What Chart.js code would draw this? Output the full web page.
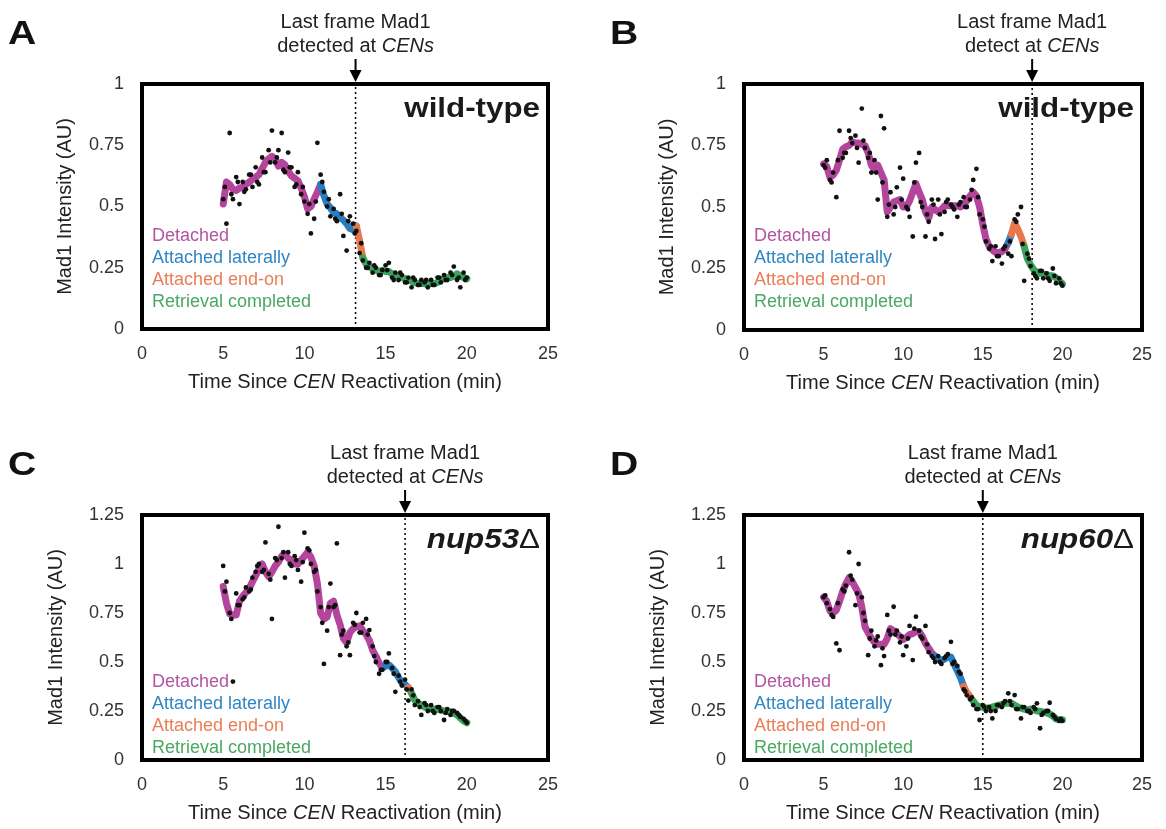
<!DOCTYPE html>
<html><head><meta charset="utf-8">
<script src="https://cdn.jsdelivr.net/npm/chart.js@4.4.1/dist/chart.umd.min.js"></script>
<style>
html,body{margin:0;padding:0;background:#fff;}
#wrap{position:relative;width:1166px;height:829px;overflow:hidden;background:#fff;}
canvas{position:absolute;}
</style></head><body>
<div id="wrap">
<canvas id="cA" width="583" height="414" style="left:0;top:0"></canvas>
<canvas id="cB" width="583" height="414" style="left:583px;top:0"></canvas>
<canvas id="cC" width="583" height="415" style="left:0;top:414px"></canvas>
<canvas id="cD" width="583" height="415" style="left:583px;top:414px"></canvas>
</div>
<script>
// ---------- DATA ----------
const phaseNames = ['Detached', 'Attached laterally', 'Attached end-on', 'Retrieval completed'];
const xTicks = [0, 5, 10, 15, 20, 25];
const xTickLabels = ['0', '5', '10', '15', '20', '25'];
const yTicksAB = [0, 0.25, 0.5, 0.75, 1];
const yTickLabelsAB = ['0', '0.25', '0.5', '0.75', '1'];
const yTicksCD = [0, 0.25, 0.5, 0.75, 1, 1.25];
const yTickLabelsCD = ['0', '0.25', '0.5', '0.75', '1', '1.25'];

const timeGrid = [5,5.2,5.4,5.6,5.8,6,6.2,6.4,6.6,6.8,7,7.2,7.4,7.6,7.8,8,8.2,8.4,8.6,8.8,9,9.2,9.4,9.6,9.8,
  10,10.2,10.4,10.6,10.8,11,11.2,11.4,11.6,11.8,12,12.2,12.4,12.6,12.8,13,13.2,13.4,13.6,13.8,14,14.2,14.4,14.6,14.8,
  15,15.2,15.4,15.6,15.8,16,16.2,16.4,16.6,16.8,17,17.2,17.4,17.6,17.8,18,18.2,18.4,18.6,18.8,19,19.2,19.4,19.6,19.8,20];
const timeSparse = [5.1,5.5,5.9,6.3,6.7,7.1,7.5,7.9,8.3,8.7,9.1,9.5,9.9,10.3,10.7,11.1,11.5,11.9,12.3,12.7,
  13.1,13.5,13.9,14.3,14.7,15.1,15.5,15.9,16.3,16.7,17.1,17.5,17.9,18.3,18.7,19.1,19.5,19.9];

// Panel A (wild-type)
const lineA = [0.51,0.60,0.59,0.57,0.565,0.575,0.58,0.59,0.60,0.61,
  0.62,0.63,0.655,0.68,0.695,0.705,0.695,0.665,0.68,0.67,
  0.645,0.625,0.615,0.605,0.575,
  0.54,0.49,0.50,0.53,0.56, 0.59,0.545,0.51,0.495,0.475, 0.47,0.455,0.445,0.43,0.41, 0.405,0.42,0.36,0.29,0.265, 0.255,0.245,0.24,0.235,0.24,
  0.235,0.235,0.225,0.22,0.215, 0.21,0.205,0.20,0.195,0.19, 0.185,0.19,0.185,0.185,0.19, 0.185,0.19,0.20,0.205,0.21, 0.21,0.215,0.225,0.215,0.21, 0.205];
const dotsA = [0.53,0.43,0.80,0.53,0.62,0.51,0.60,0.57,0.63,0.58,
  0.66,0.59,0.70,0.64,0.73,0.81,0.68,0.73,0.80,0.64,
  0.72,0.66,0.58,0.64,0.55,
  0.52,0.47,0.39,0.45,0.76, 0.63,0.56,0.50,0.46,0.49, 0.44,0.55,0.38,0.32,0.46, 0.43,0.40,0.31,0.28,0.25, 0.27,0.23,0.25,0.22,0.24,
  0.26,0.27,0.21,0.23,0.20, 0.22,0.19,0.21,0.17,0.20, 0.18,0.20,0.19,0.17,0.20, 0.18,0.21,0.19,0.22,0.20, 0.23,0.255,0.20,0.17,0.23, 0.21];
const dotsA2 = [0.58,0.55,0.60,0.56,0.63,0.60,0.64,0.68,0.70,0.65,0.66,0.59,0.58,0.51,0.52,0.60,0.53,0.45,0.47,0.44,
  0.39,0.35,0.25,0.26,0.22,0.24,0.20,0.23,0.19,0.21,0.18,0.20,0.18,0.21,0.20,0.22,0.21,0.20];
const phaseStartA = [11.0, 13.2, 13.65];
const lastFrameA = 13.15;

// Panel B (wild-type)
const lineB = [0.675,0.665,0.62,0.63,0.65,0.69,0.735,0.745,0.75,0.765,
  0.76,0.76,0.755,0.75,0.72,0.67,0.65,0.67,0.64,0.61,
  0.48,0.50,0.52,0.525,0.53,
  0.50,0.50,0.525,0.56,0.595, 0.56,0.53,0.48,0.455,0.50, 0.49,0.48,0.49,0.505,0.505, 0.505,0.505,0.505,0.50,0.51, 0.525,0.545,0.56,0.545,0.50,
  0.43,0.37,0.34,0.325,0.315, 0.315,0.318,0.33,0.355,0.39, 0.435,0.41,0.38,0.34,0.29, 0.265,0.245,0.235,0.23,0.228, 0.225,0.222,0.22,0.212,0.20, 0.188];
const dotsB = [0.67,0.69,0.61,0.64,0.54,0.81,0.70,0.72,0.81,0.76,
  0.79,0.68,0.90,0.74,0.70,0.64,0.69,0.53,0.87,0.82,
  0.46,0.56,0.47,0.58,0.66,
  0.615,0.50,0.46,0.38,0.68, 0.72,0.50,0.38,0.44,0.53, 0.37,0.53,0.39,0.48,0.53, 0.51,0.49,0.46,0.52,0.54, 0.50,0.53,0.61,0.655,0.47,
  0.45,0.36,0.33,0.28,0.34, 0.30,0.27,0.34,0.31,0.30, 0.45,0.47,0.50,0.20,0.31, 0.26,0.23,0.21,0.24,0.21, 0.23,0.20,0.25,0.19,0.21, 0.18];
const dotsB2 = [0.66,0.60,0.69,0.72,0.78,0.74,0.77,0.72,0.64,0.60,0.51,0.50,0.53,0.49,0.60,0.52,0.47,0.51,0.47,0.52,
  0.50,0.51,0.50,0.57,0.54,0.42,0.34,0.30,0.33,0.36,0.44,0.35,0.29,0.22,0.24,0.21,0.22,0.19];
const phaseStartB = [16.65, 16.85, 17.55];
const lastFrameB = 18.1;

// Panel C (nup53Δ)
const lineC = [0.885,0.80,0.745,0.74,0.74,0.81,0.835,0.855,0.875,0.91,
  0.94,0.975,1.0,0.96,0.935,0.96,0.99,1.01,1.04,1.05,
  1.03,1.015,1.0,1.0,1.02,
  1.04,1.06,1.035,0.99,0.90, 0.75,0.72,0.73,0.80,0.81, 0.74,0.69,0.62,0.60,0.65, 0.67,0.68,0.685,0.66,0.64, 0.61,0.56,0.53,0.495,0.47,
  0.48,0.485,0.47,0.45,0.42, 0.395,0.385,0.37,0.34,0.305, 0.29,0.28,0.27,0.265,0.262, 0.26,0.258,0.255,0.25,0.248, 0.245,0.24,0.23,0.215,0.20, 0.19];
const dotsC = [0.99,0.91,0.75,0.40,0.85,0.79,0.82,0.88,0.86,0.93,
  0.96,1.00,0.96,1.11,0.95,0.72,1.03,1.19,1.03,0.93,
  1.06,0.99,1.04,0.97,0.91,
  1.16,1.08,1.00,0.96,0.86, 0.78,0.49,0.66,0.90,0.78, 1.105,0.535,0.66,0.58,0.535, 0.70,0.75,0.65,0.70,0.72, 0.663,0.58,0.50,0.44,0.46,
  0.50,0.544,0.47,0.348,0.43, 0.38,0.41,0.303,0.36,0.28, 0.30,0.23,0.29,0.25,0.28, 0.24,0.27,0.25,0.204,0.26, 0.23,0.25,0.24,0.22,0.21, 0.19];
const dotsC2 = [0.86,0.72,0.79,0.83,0.87,0.99,0.97,0.92,1.02,1.06,1.00,1.02,1.01,1.07,0.97,0.70,0.78,0.79,0.64,0.60,
  0.69,0.65,0.64,0.53,0.46,0.50,0.44,0.40,0.36,0.33,0.27,0.28,0.25,0.27,0.24,0.25,0.23,0.20];
const phaseStartC = [14.9, 16.3, 16.7];
const lastFrameC = 16.2;

// Panel D (nup60Δ)
const lineD = [0.83,0.81,0.76,0.75,0.765,0.81,0.86,0.90,0.93,0.91,
  0.88,0.85,0.78,0.68,0.65,0.62,0.60,0.59,0.59,0.59,
  0.62,0.67,0.66,0.645,0.63,
  0.615,0.625,0.64,0.645,0.655, 0.655,0.63,0.595,0.57,0.545, 0.53,0.515,0.51,0.515,0.525, 0.525,0.49,0.455,0.42,0.375, 0.345,0.325,0.30,0.28,0.272,
  0.268,0.265,0.265,0.27,0.275, 0.28,0.283,0.29,0.29,0.29, 0.28,0.27,0.265,0.26,0.255, 0.26,0.255,0.25,0.248,0.245, 0.24,0.235,0.225,0.21,0.205, 0.205];
const dotsD = [0.83,0.80,0.77,0.73,0.595,0.56,0.87,0.89,1.06,0.92,
  0.79,1.00,0.83,0.71,0.535,0.66,0.58,0.63,0.484,0.53,
  0.74,0.64,0.782,0.66,0.60,
  0.535,0.58,0.684,0.51,0.731, 0.66,0.62,0.684,0.55,0.53, 0.50,0.53,0.49,0.52,0.54, 0.603,0.50,0.48,0.44,0.36, 0.33,0.31,0.28,0.26,0.204,
  0.28,0.25,0.27,0.212,0.25, 0.28,0.27,0.30,0.34,0.28, 0.331,0.26,0.212,0.27,0.25, 0.24,0.27,0.289,0.162,0.24, 0.25,0.292,0.23,0.21,0.20, 0.20];
const dotsD2 = [0.84,0.74,0.80,0.86,0.94,0.85,0.75,0.62,0.61,0.57,0.66,0.64,0.63,0.62,0.67,0.63,0.59,0.52,0.50,0.53,
  0.49,0.45,0.35,0.32,0.26,0.27,0.25,0.28,0.29,0.30,0.26,0.27,0.25,0.26,0.23,0.25,0.22,0.21];
const phaseStartD = [11.9, 13.7, 14.3];
const lastFrameD = 15.0;

// ---------- STYLE / LAYOUT ----------
const FONT = '"Liberation Sans", Arial, Helvetica, sans-serif';
const LINE_COLORS = ['#B4449C', '#2A7EC0', '#E8774C', '#38A55B'];
const TEXT_COLORS = ['#B255A2', '#2F86C4', '#EA7D55', '#49A862'];
Chart.defaults.font.family = FONT;

function pts(xs, ys) { return xs.map((x, i) => ({ x: x, y: ys[i] })); }
function colorAt(bounds, t) { let i = 0; while (i < bounds.length && t > bounds[i]) i++; return LINE_COLORS[i]; }

function drawRuns(ctx, runs, x, y, align, color, sx) {
  ctx.save();
  ctx.fillStyle = color; ctx.textBaseline = 'alphabetic'; ctx.textAlign = 'left';
  let total = 0;
  const ws = runs.map(r => { ctx.font = r.f; const w = ctx.measureText(r.t).width; total += w; return w; });
  let x0 = align === 'center' ? x - total * sx / 2 : (align === 'right' ? x - total * sx : x);
  ctx.translate(x0, y); ctx.scale(sx, 1);
  let cx = 0;
  runs.forEach((r, i) => { ctx.font = r.f; ctx.fillText(r.t, cx, 0); cx += ws[i]; });
  ctx.restore();
}

function makePanel(id, cfg) {
  const canvas = document.getElementById(id);
  const W = canvas.width, H = canvas.height;
  const yW = 60, xH = 56;
  const deco = {
    id: 'deco' + id,
    afterDraw(chart) {
      const ctx = chart.ctx, a = chart.chartArea, xs = chart.scales.x;
      ctx.save();
      ctx.strokeStyle = '#000'; ctx.lineWidth = 4;
      ctx.strokeRect(a.left, a.top, a.right - a.left, a.bottom - a.top);
      // panel letter
      drawRuns(ctx, [{ t: cfg.letter, f: 'bold 34px ' + FONT }], a.left - 134, a.top - 40, 'left', '#111', 1.15);
      // annotation + arrow
      const lx = xs.getPixelForValue(cfg.lastFrame);
      drawRuns(ctx, [{ t: 'Last frame Mad1', f: '20px ' + FONT }], lx, a.top - 56, 'center', '#222', 1.0);
      drawRuns(ctx, [{ t: cfg.annot2, f: '20px ' + FONT }, { t: 'CENs', f: 'italic 20px ' + FONT }], lx, a.top - 32, 'center', '#222', 1.0);
      ctx.strokeStyle = '#000'; ctx.lineWidth = 2;
      ctx.beginPath(); ctx.moveTo(lx, a.top - 25); ctx.lineTo(lx, a.top - 11); ctx.stroke();
      ctx.fillStyle = '#000';
      ctx.beginPath(); ctx.moveTo(lx - 6, a.top - 14); ctx.lineTo(lx + 6, a.top - 14); ctx.lineTo(lx, a.top - 2); ctx.closePath(); ctx.fill();
      // strain title
      drawRuns(ctx, cfg.titleRuns, a.right - 8, a.top + 33, 'right', '#1a1a1a', 1.16);
      // phase legend
      phaseNames.forEach((n, i) => drawRuns(ctx, [{ t: n, f: '18px ' + FONT }], a.left + 10, cfg.legendBase + i * 22, 'left', TEXT_COLORS[i], 1.0));
      // x title
      drawRuns(ctx, [{ t: 'Time Since ', f: '20px ' + FONT }, { t: 'CEN', f: 'italic 20px ' + FONT }, { t: ' Reactivation (min)', f: '20px ' + FONT }],
        (a.left + a.right) / 2, a.bottom + 59, 'center', '#222', 1.0);
      // y title
      ctx.save();
      ctx.translate(a.left - cfg.yTitleOff, (a.top + a.bottom) / 2);
      ctx.rotate(-Math.PI / 2);
      ctx.font = '20px ' + FONT; ctx.fillStyle = '#222'; ctx.textAlign = 'center'; ctx.textBaseline = 'middle';
      ctx.fillText('Mad1 Intensity (AU)', 0, 0);
      ctx.restore();
      ctx.restore();
    }
  };
  const yMax = cfg.yTicks[cfg.yTicks.length - 1];
  new Chart(canvas, {
    type: 'scatter',
    data: {
      datasets: [
        { type: 'scatter', data: pts(timeGrid, cfg.dots), pointRadius: 2.4, pointBackgroundColor: '#111', pointBorderWidth: 0, order: 0 },
        { type: 'scatter', data: pts(timeSparse, cfg.dots2), pointRadius: 2.4, pointBackgroundColor: '#111', pointBorderWidth: 0, order: 0 },
        { type: 'line', data: pts(timeGrid, cfg.line), borderColor: LINE_COLORS[0], borderWidth: 7, pointRadius: 0,
          tension: 0, borderCapStyle: 'round', borderJoinStyle: 'round', fill: false, order: 1,
          segment: { borderColor: c => colorAt(cfg.phases, (c.p0.parsed.x + c.p1.parsed.x) / 2) } },
        { type: 'line', data: [{ x: cfg.lastFrame, y: 0 }, { x: cfg.lastFrame, y: yMax }], borderColor: '#000', borderWidth: 1.5,
          borderDash: [2, 3], pointRadius: 0, fill: false, order: 2 }
      ]
    },
    options: {
      responsive: false, animation: false, devicePixelRatio: 1,
      layout: { padding: { left: cfg.frame[0] - yW, top: cfg.frame[2], right: W - cfg.frame[1], bottom: H - cfg.frame[3] - xH } },
      plugins: { legend: { display: false }, tooltip: { enabled: false } },
      scales: {
        x: { type: 'linear', min: 0, max: 25,
          grid: { display: false, drawTicks: false }, border: { display: false },
          ticks: { padding: 14, color: '#333', font: { size: 18, family: FONT },
            callback: (v, i) => xTickLabels[i] },
          afterBuildTicks: s => { s.ticks = xTicks.map(v => ({ value: v })); },
          afterFit: s => { s.height = xH; } },
        y: { type: 'linear', min: 0, max: yMax,
          grid: { display: false, drawTicks: false }, border: { display: false },
          ticks: { padding: 18, color: '#333', font: { size: 18, family: FONT },
            callback: (v, i) => cfg.yLabels[i] },
          afterBuildTicks: s => { s.ticks = cfg.yTicks.map(v => ({ value: v })); },
          afterFit: s => { s.width = yW; } }
      }
    },
    plugins: [deco]
  });
}

makePanel('cA', { letter: 'A', frame: [142, 548, 84, 329], yTicks: yTicksAB, yLabels: yTickLabelsAB, line: lineA, dots: dotsA, dots2: dotsA2,
  phases: phaseStartA, lastFrame: lastFrameA, annot2: 'detected at ', titleRuns: [{ t: 'wild-type', f: 'bold 27px ' + FONT }],
  legendBase: 241, yTitleOff: 77 });
makePanel('cB', { letter: 'B', frame: [161, 568, 84, 330], yTicks: yTicksAB, yLabels: yTickLabelsAB, line: lineB, dots: dotsB, dots2: dotsB2,
  phases: phaseStartB, lastFrame: lastFrameB, annot2: 'detect at ', titleRuns: [{ t: 'wild-type', f: 'bold 27px ' + FONT }],
  legendBase: 241, yTitleOff: 77 });
makePanel('cC', { letter: 'C', frame: [142, 548, 101, 346], yTicks: yTicksCD, yLabels: yTickLabelsCD, line: lineC, dots: dotsC, dots2: dotsC2,
  phases: phaseStartC, lastFrame: lastFrameC, annot2: 'detected at ', titleRuns: [{ t: 'nup53', f: 'italic bold 27px ' + FONT }, { t: '\u0394', f: '27px ' + FONT }],
  legendBase: 273, yTitleOff: 86 });
makePanel('cD', { letter: 'D', frame: [161, 568, 101, 346], yTicks: yTicksCD, yLabels: yTickLabelsCD, line: lineD, dots: dotsD, dots2: dotsD2,
  phases: phaseStartD, lastFrame: lastFrameD, annot2: 'detected at ', titleRuns: [{ t: 'nup60', f: 'italic bold 27px ' + FONT }, { t: '\u0394', f: '27px ' + FONT }],
  legendBase: 273, yTitleOff: 86 });
</script>
</body></html>
